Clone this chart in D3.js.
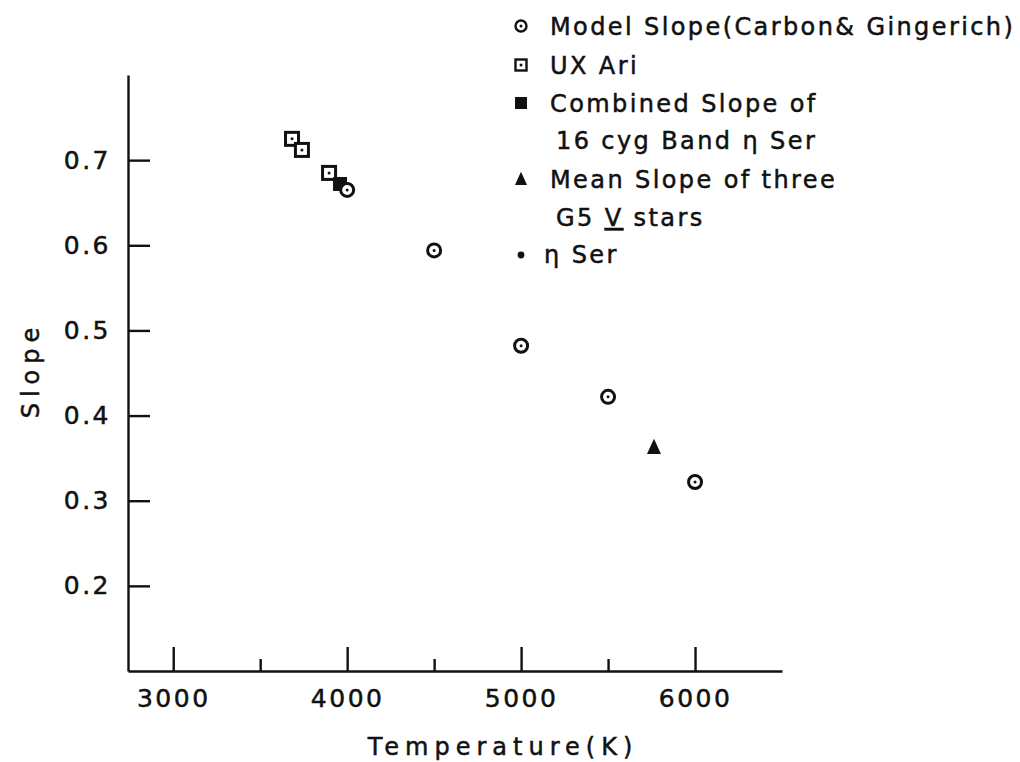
<!DOCTYPE html>
<html>
<head>
<meta charset="utf-8">
<script src="https://cdn.jsdelivr.net/npm/d3@7"></script>
<style>
  body { margin: 0; background: #fff; }
  text { font-family: "DejaVu Sans", sans-serif; fill: #111; stroke: #111; stroke-width: 0.5px; }
</style>
</head>
<body>
<svg id="chart" width="1020" height="762"></svg>
<script>
// model slope (Carbon & Gingerich)
var modelTemp = [4000, 4500, 5000, 5500, 6000];
var modelSlope = [0.665, 0.594, 0.482, 0.422, 0.322];
// UX Ari
var uxTemp = [3683, 3740, 3896];
var uxSlope = [0.725, 0.712, 0.685];
// combined slope of 16 Cyg B and eta Ser
var combTemp = [3959];
var combSlope = [0.672];
// mean slope of three G5 V stars
var meanTemp = [5764];
var meanSlope = [0.363];

var xMajor = [3000, 4000, 5000, 6000];
var xMinor = [3500, 4500, 5500];
var yTicks = [0.2, 0.3, 0.4, 0.5, 0.6, 0.7];

var svg = d3.select("#chart");
var ink = "#111";

var x = d3.scaleLinear().domain([2740, 6500]).range([128, 782]);
var y = d3.scaleLinear().domain([0.1, 0.8]).range([671, 75]);

// x axis
var gx = svg.append("g").attr("transform", "translate(0," + y(0.1) + ")");
gx.call(d3.axisBottom(x).tickValues(xMajor).tickSize(-24).tickSizeOuter(0).tickPadding(18)
    .tickFormat(d3.format("d")));
gx.append("g").call(d3.axisBottom(x).tickValues(xMinor).tickSize(-12).tickFormat(""))
  .select(".domain").remove();
gx.selectAll("line, path").attr("stroke", ink).attr("stroke-width", 2.4);
gx.selectAll("text").style("font-size", "25px").style("letter-spacing", "2.5px").attr("fill", ink);

// y axis
var gy = svg.append("g").attr("transform", "translate(" + x(2740) + ",0)");
gy.call(d3.axisLeft(y).tickValues(yTicks).tickSize(-22).tickSizeOuter(0).tickPadding(17)
    .tickFormat(d3.format(".1f")));
gy.selectAll("line, path").attr("stroke", ink).attr("stroke-width", 2.4);
gy.selectAll("text").style("font-size", "25px").style("letter-spacing", "2.5px").attr("fill", ink);

// axis titles
svg.append("text").attr("x", 503).attr("y", 755).attr("text-anchor", "middle")
  .style("font-size", "24px").style("letter-spacing", "6px").text("Temperature(K)");
svg.append("text").attr("transform", "translate(39,370) rotate(-90)").attr("text-anchor", "middle")
  .style("font-size", "24px").style("letter-spacing", "6px").text("Slope");

// markers
function circleMark(g, cx, cy, r, w) {
  g.append("circle").attr("cx", cx).attr("cy", cy).attr("r", r)
    .attr("fill", "#fff").attr("stroke", ink).attr("stroke-width", w);
  g.append("circle").attr("cx", cx).attr("cy", cy).attr("r", 1.5).attr("fill", ink);
}
function squareMark(g, cx, cy, s, w) {
  g.append("rect").attr("x", cx - s / 2).attr("y", cy - s / 2).attr("width", s).attr("height", s)
    .attr("fill", "#fff").attr("stroke", ink).attr("stroke-width", w);
  g.append("circle").attr("cx", cx).attr("cy", cy).attr("r", 1.5).attr("fill", ink);
}
function filledSquare(g, cx, cy, s) {
  g.append("rect").attr("x", cx - s / 2).attr("y", cy - s / 2).attr("width", s).attr("height", s)
    .attr("fill", ink);
}
function triangleMark(g, cx, cy, s) {
  g.append("path").attr("d", "M" + cx + "," + (cy - s * 0.6) + "L" + (cx + s / 2) + "," + (cy + s * 0.5)
    + "L" + (cx - s / 2) + "," + (cy + s * 0.5) + "Z").attr("fill", ink);
}

var marks = svg.append("g");
uxTemp.forEach(function (t, i) { squareMark(marks, x(t), y(uxSlope[i]), 13, 3); });
combTemp.forEach(function (t, i) { filledSquare(marks, x(t), y(combSlope[i]), 14); });
modelTemp.forEach(function (t, i) { circleMark(marks, x(t), y(modelSlope[i]), 6.5, 3); });
meanTemp.forEach(function (t, i) { triangleMark(marks, x(t), y(meanSlope[i]), 14); });

// legend
var lg = svg.append("g");
function legText(tx, ty, str) {
  return lg.append("text").attr("x", tx).attr("y", ty)
    .style("font-size", "24px").style("letter-spacing", "2.4px").text(str);
}
circleMark(lg, 521, 26, 5.5, 2.4);
legText(550, 35, "Model Slope(Carbon& Gingerich)");
squareMark(lg, 521, 65, 11, 2.4);
legText(550, 74, "UX Ari");
filledSquare(lg, 521, 103, 12);
legText(550, 112, "Combined Slope of");
legText(556, 149, "16 cyg Band η Ser");
triangleMark(lg, 521, 179, 12);
legText(550, 188, "Mean Slope of three");
var g5 = legText(556, 226, "G5 ");
g5.append("tspan").style("text-decoration", "underline").text("V");
g5.append("tspan").text(" stars");
lg.append("circle").attr("cx", 521).attr("cy", 255).attr("r", 3.4).attr("fill", ink);
legText(544, 263, "η Ser");
</script>
</body>
</html>
